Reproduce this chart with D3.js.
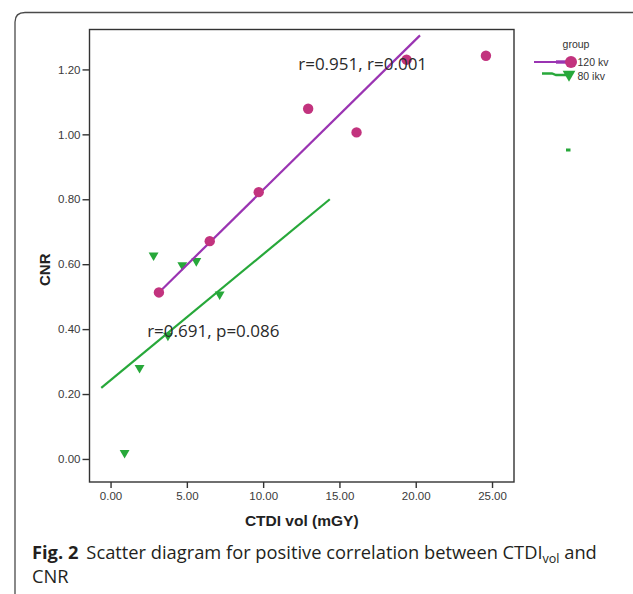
<!DOCTYPE html>
<html>
<head>
<meta charset="utf-8">
<script src="https://cdn.jsdelivr.net/npm/d3@7"></script>
<style>
html,body{margin:0;padding:0;background:#fff;}
svg{display:block;}
</style>
</head>
<body>
<svg id="chart" width="633" height="594"></svg>
<script>
// ---- data ----
const x120 = [3.17, 6.5, 9.71, 12.95, 16.12, 19.4, 24.6];
const y120 = [0.513, 0.671, 0.822, 1.079, 1.006, 1.23, 1.242];
const x80 = [2.82, 4.7, 5.62, 7.15, 3.76, 1.9, 0.92];
const y80 = [0.627, 0.597, 0.61, 0.507, 0.38, 0.281, 0.019];
const fit120 = [[3.17, 0.513], [20.28, 1.305]];
const fit80 = [[-0.61, 0.219], [14.37, 0.80]];
const xTicks = [0, 5, 10, 15, 20, 25];
const yTicks = [0, 0.2, 0.4, 0.6, 0.8, 1.0, 1.2];
const groups = ["120 kv", "80 ikv"];
const annot120 = {x: 12.3, y: 1.197, text: "r=0.951, r=0.001"};
const annot80 = {x: 2.4, y: 0.376, text: "r=0.691, p=0.086"};

const svg = d3.select("#chart");
const W = 633, H = 594;
const purpleLine = "#9a34b2", circleFill = "#c2337e", green = "#27a83a";

// outer card frame (rounded top-left corner)
svg.append("path")
  .attr("d", `M15,${H+5} L15,22 Q15,12.5 25,12.5 L${W+5},12.5`)
  .attr("fill", "none").attr("stroke", "#4a4a4a").attr("stroke-width", 1.3);

const L = 89.5, R = 514, T = 29.5, B = 482;
const x = d3.scaleLinear().domain([-1.38, 26.44]).range([L, R]);
const y = d3.scaleLinear().domain([-0.071, 1.323]).range([B, T]);

// plot frame
svg.append("rect").attr("x", L).attr("y", T).attr("width", R - L).attr("height", B - T)
  .attr("fill", "none").attr("stroke", "#333").attr("stroke-width", 1.4);

// axes
const xAxis = d3.axisBottom(x).tickValues(xTicks).tickFormat(d3.format(".2f")).tickSize(6).tickSizeOuter(0);
const yAxis = d3.axisLeft(y).tickValues(yTicks).tickFormat(d3.format(".2f")).tickSize(7).tickSizeOuter(0);
const gx = svg.append("g").attr("transform", `translate(0,${B})`).call(xAxis);
const gy = svg.append("g").attr("transform", `translate(${L},0)`).call(yAxis);
[gx, gy].forEach(g => {
  g.select(".domain").remove();
  g.selectAll(".tick line").attr("stroke", "#333").attr("stroke-width", 1.4);
  g.selectAll(".tick text").attr("fill", "#3a3a3a")
    .style("font-family", "'Liberation Sans', Arial, sans-serif").style("font-size", "11.5px");
});
gx.selectAll(".tick text").attr("dy", "0.71em").attr("y", 10);
gy.selectAll(".tick text").attr("x", -9);

// axis titles
svg.append("text").attr("x", (L + R) / 2).attr("y", 526)
  .attr("text-anchor", "middle").attr("fill", "#222")
  .style("font-family", "'Liberation Sans', Arial, sans-serif").style("font-weight", "bold").style("font-size", "15.5px")
  .text("CTDI vol (mGY)");
svg.append("text").attr("transform", `translate(50,${(T + B) / 2 + 14}) rotate(-90)`)
  .attr("text-anchor", "middle").attr("fill", "#222")
  .style("font-family", "'Liberation Sans', Arial, sans-serif").style("font-weight", "bold").style("font-size", "15px")
  .text("CNR");

// fit lines
const line = d3.line().x(d => x(d[0])).y(d => y(d[1]));
svg.append("path").attr("d", line(fit80)).attr("stroke", green).attr("stroke-width", 2.2).attr("fill", "none");

// points 80 kv
const tri = d3.symbol().type(d3.symbolTriangle).size(42);
svg.append("g").selectAll("path").data(x80.map((v, i) => [v, y80[i]])).join("path")
  .attr("d", tri)
  .attr("transform", d => `translate(${x(d[0])},${y(d[1])}) rotate(180)`)
  .attr("fill", green);

svg.append("path").attr("d", line(fit120)).attr("stroke", purpleLine).attr("stroke-width", 2.2).attr("fill", "none");

// points 120 kv
svg.append("g").selectAll("circle").data(x120.map((v, i) => [v, y120[i]])).join("circle")
  .attr("cx", d => x(d[0])).attr("cy", d => y(d[1])).attr("r", 5.2)
  .attr("fill", circleFill);

// annotations
[annot120, annot80].forEach(a => {
  svg.append("text").attr("x", x(a.x)).attr("y", y(a.y))
    .attr("fill", "#2a2a2a")
    .style("font-family", "'Open Sans', sans-serif").style("font-size", "17px")
    .text(a.text);
});

// legend
const lg = svg.append("g");
lg.append("text").attr("x", 576).attr("y", 48).attr("text-anchor", "middle").attr("fill", "#333")
  .style("font-family", "'Liberation Sans', Arial, sans-serif").style("font-size", "10.5px").text("group");
lg.append("line").attr("x1", 534).attr("x2", 571).attr("y1", 62).attr("y2", 62)
  .attr("stroke", purpleLine).attr("stroke-width", 2.2);
lg.append("line").attr("x1", 556).attr("x2", 571).attr("y1", 62).attr("y2", 62)
  .attr("stroke", purpleLine).attr("stroke-width", 3.4);
lg.append("circle").attr("cx", 571).attr("cy", 62).attr("r", 6).attr("fill", circleFill);
lg.append("path").attr("d", "M542,73.5 L552,73.5 L556,75 L566,75")
  .attr("stroke", green).attr("stroke-width", 2.4).attr("fill", "none");
lg.append("path").attr("d", d3.symbol().type(d3.symbolTriangle).size(70))
  .attr("transform", "translate(569,74.5) rotate(180)").attr("fill", green);
groups.forEach((g, i) => {
  lg.append("text").attr("x", 577.5).attr("y", 66 + i * 13.5).attr("fill", "#333")
    .style("font-family", "'Liberation Sans', Arial, sans-serif").style("font-size", "10.5px").text(g);
});
lg.append("rect").attr("x", 566).attr("y", 148.5).attr("width", 4.5).attr("height", 3).attr("fill", green);

// caption
const cap = svg.append("text").attr("x", 32).attr("y", 559).attr("fill", "#231f20")
  .style("font-family", "'Open Sans', sans-serif").style("font-size", "18.3px");
cap.append("tspan").style("font-weight", "bold").text("Fig. 2");
cap.append("tspan").attr("dx", 8).text("Scatter diagram for positive correlation between CTDI");
cap.append("tspan").attr("dy", 4).style("font-size", "12.5px").text("vol");
cap.append("tspan").attr("dy", -4).text(" and");
svg.append("text").attr("x", 32).attr("y", 583).attr("fill", "#231f20")
  .style("font-family", "'Open Sans', sans-serif").style("font-size", "18.3px").text("CNR");
</script>
</body>
</html>
